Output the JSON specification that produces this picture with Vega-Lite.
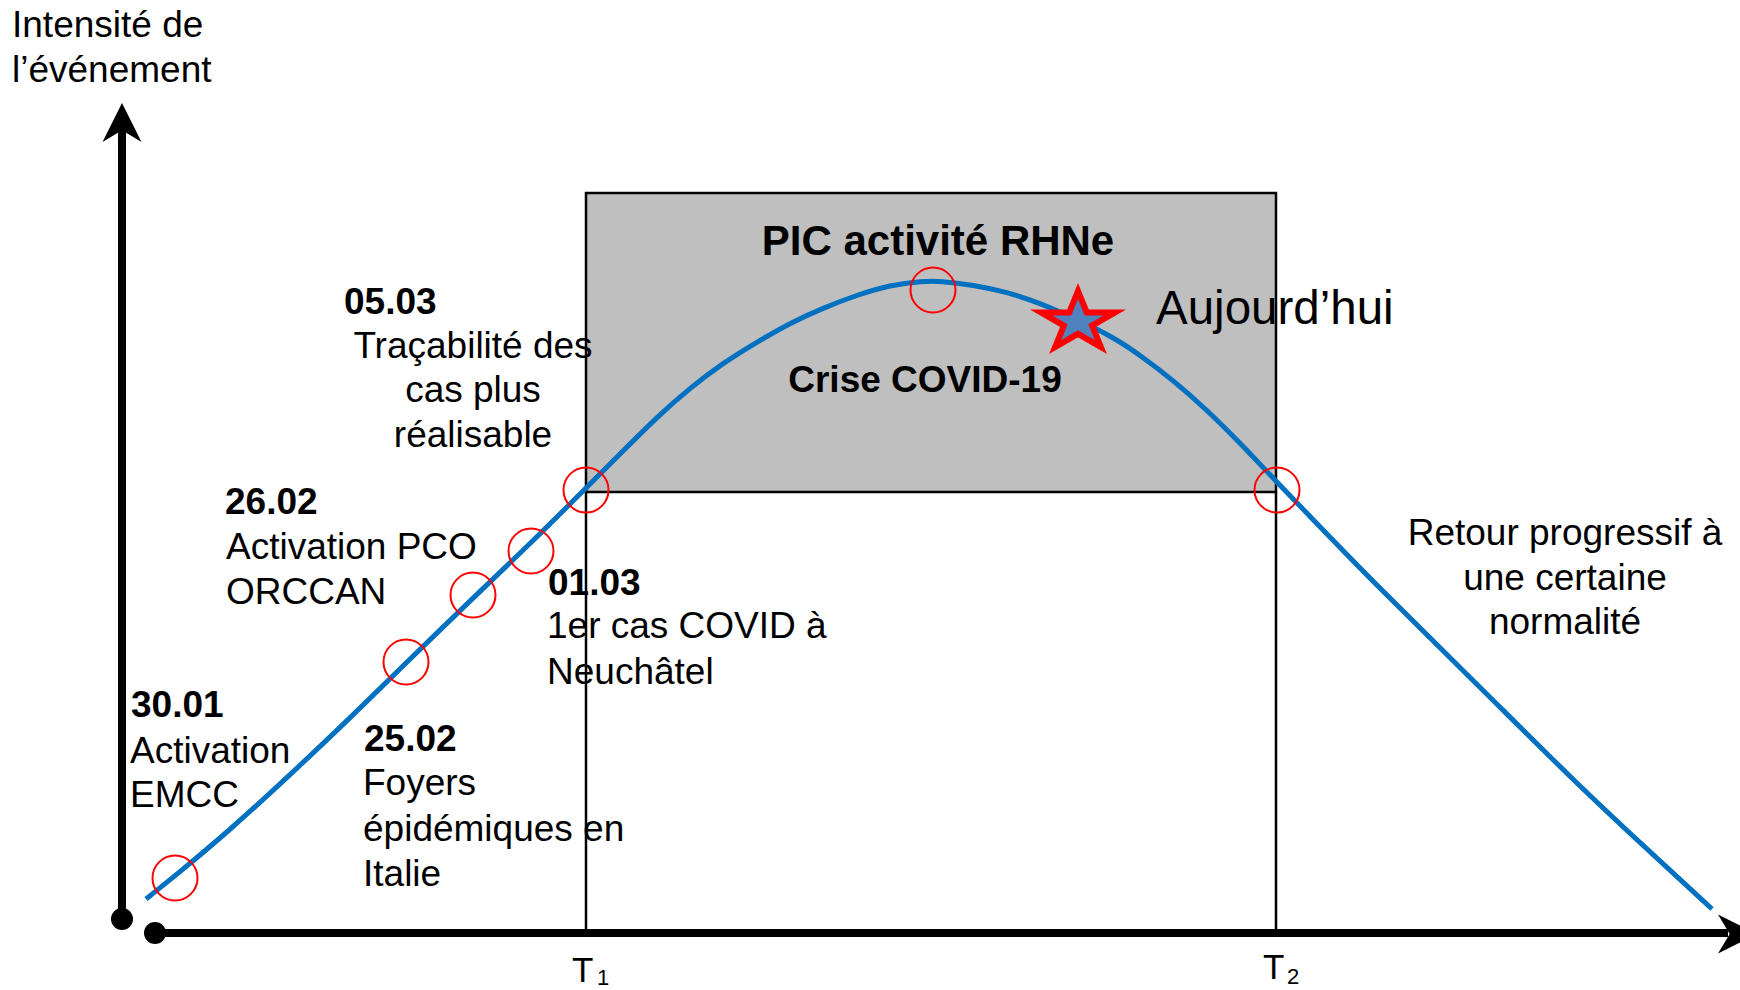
{
  "$schema": "https://vega.github.io/schema/vega-lite/v6.json",
  "width": 1740,
  "height": 990,
  "autosize": {"type": "none"},
  "padding": 0,
  "background": "white",
  "config": {"view": {"stroke": null}},
  "layer": [
    {
      "data": {"values": [{"x1": 586, "x2": 1276, "y1": 193, "y2": 492}]},
      "mark": {"type": "rect", "fill": "#BFBFBF", "stroke": "#000000", "strokeWidth": 2.5},
      "encoding": {
        "x": {"field": "x1", "type": "quantitative", "scale": {"domain": [0, 1740], "nice": false, "zero": false}, "axis": null},
        "x2": {"field": "x2"},
        "y": {"field": "y1", "type": "quantitative", "scale": {"domain": [0, 990], "nice": false, "zero": false, "reverse": true}, "axis": null},
        "y2": {"field": "y2"}
      }
    },
    {
      "data": {"values": [{"x": 586, "y1": 492, "y2": 933}, {"x": 1276, "y1": 492, "y2": 933}]},
      "mark": {"type": "rule", "color": "#000000", "strokeWidth": 2.5},
      "encoding": {
        "x": {"field": "x", "type": "quantitative", "scale": {"domain": [0, 1740], "nice": false, "zero": false}, "axis": null},
        "y": {"field": "y1", "type": "quantitative", "scale": {"domain": [0, 990], "nice": false, "zero": false, "reverse": true}, "axis": null},
        "y2": {"field": "y2"}
      }
    },
    {
      "data": {"values": [
        {"t": 146, "v": 899}, {"t": 175, "v": 876}, {"t": 230, "v": 830}, {"t": 290, "v": 775},
        {"t": 350, "v": 718}, {"t": 406, "v": 663}, {"t": 473, "v": 598}, {"t": 531, "v": 543},
        {"t": 586, "v": 488}, {"t": 623, "v": 451}, {"t": 657, "v": 417}, {"t": 690, "v": 388},
        {"t": 723, "v": 363}, {"t": 757, "v": 342}, {"t": 790, "v": 323}, {"t": 823, "v": 308},
        {"t": 857, "v": 295}, {"t": 890, "v": 285}, {"t": 923, "v": 281}, {"t": 940, "v": 281},
        {"t": 973, "v": 285}, {"t": 1007, "v": 292}, {"t": 1040, "v": 303}, {"t": 1076, "v": 319},
        {"t": 1113, "v": 337}, {"t": 1140, "v": 355}, {"t": 1173, "v": 380}, {"t": 1207, "v": 410},
        {"t": 1240, "v": 443}, {"t": 1273, "v": 478}, {"t": 1300, "v": 506}, {"t": 1372, "v": 581},
        {"t": 1476, "v": 683}, {"t": 1579, "v": 786}, {"t": 1648, "v": 850}, {"t": 1712, "v": 909}
      ]},
      "mark": {"type": "line", "color": "#0070C0", "strokeWidth": 5, "interpolate": "basis"},
      "encoding": {
        "x": {"field": "t", "type": "quantitative", "scale": {"domain": [0, 1740], "nice": false, "zero": false}, "axis": null},
        "y": {"field": "v", "type": "quantitative", "scale": {"domain": [0, 990], "nice": false, "zero": false, "reverse": true}, "axis": null}
      }
    },
    {
      "data": {"values": [
        {"x": 175, "y": 878}, {"x": 406, "y": 662}, {"x": 473, "y": 595}, {"x": 531, "y": 551},
        {"x": 586, "y": 490}, {"x": 933, "y": 290}, {"x": 1277, "y": 490}
      ]},
      "mark": {"type": "point", "shape": "circle", "filled": false, "stroke": "#FF0000", "strokeWidth": 2, "size": 2025, "opacity": 1},
      "encoding": {
        "x": {"field": "x", "type": "quantitative", "scale": {"domain": [0, 1740], "nice": false, "zero": false}, "axis": null},
        "y": {"field": "y", "type": "quantitative", "scale": {"domain": [0, 990], "nice": false, "zero": false, "reverse": true}, "axis": null}
      }
    },
    {
      "data": {"values": [{"x": 1078, "y": 319}]},
      "mark": {"type": "point", "shape": "M0,-0.76L0.236,-0.179L1,-0.179L0.382,0.179L0.618,0.76L0,0.401L-0.618,0.76L-0.382,0.179L-1,-0.179L-0.236,-0.179Z", "filled": true, "fill": "#4F81BD", "stroke": "#FF0000", "strokeWidth": 6, "strokeJoin": "miter", "size": 5476, "opacity": 1, "fillOpacity": 1},
      "encoding": {
        "x": {"field": "x", "type": "quantitative", "scale": {"domain": [0, 1740], "nice": false, "zero": false}, "axis": null},
        "y": {"field": "y", "type": "quantitative", "scale": {"domain": [0, 990], "nice": false, "zero": false, "reverse": true}, "axis": null}
      }
    },
    {
      "data": {"values": [
        {"x": 122, "y": 919, "x2": 122, "y2": 128},
        {"x": 155, "y": 933, "x2": 1728, "y2": 933}
      ]},
      "mark": {"type": "rule", "color": "#000000", "strokeWidth": 8},
      "encoding": {
        "x": {"field": "x", "type": "quantitative", "scale": {"domain": [0, 1740], "nice": false, "zero": false}, "axis": null},
        "y": {"field": "y", "type": "quantitative", "scale": {"domain": [0, 990], "nice": false, "zero": false, "reverse": true}, "axis": null},
        "x2": {"field": "x2"},
        "y2": {"field": "y2"}
      }
    },
    {
      "data": {"values": [{"x": 122, "y": 919}, {"x": 155, "y": 933}]},
      "mark": {"type": "point", "shape": "circle", "filled": true, "color": "#000000", "size": 484, "opacity": 1},
      "encoding": {
        "x": {"field": "x", "type": "quantitative", "scale": {"domain": [0, 1740], "nice": false, "zero": false}, "axis": null},
        "y": {"field": "y", "type": "quantitative", "scale": {"domain": [0, 990], "nice": false, "zero": false, "reverse": true}, "axis": null}
      }
    },
    {
      "data": {"values": [{"x": 122, "y": 122.5}]},
      "mark": {"type": "point", "shape": "M0,-1L1,1L0,0.4L-1,1Z", "filled": true, "color": "#000000", "size": 1521, "opacity": 1},
      "encoding": {
        "x": {"field": "x", "type": "quantitative", "scale": {"domain": [0, 1740], "nice": false, "zero": false}, "axis": null},
        "y": {"field": "y", "type": "quantitative", "scale": {"domain": [0, 990], "nice": false, "zero": false, "reverse": true}, "axis": null}
      }
    },
    {
      "data": {"values": [{"x": 1737.5, "y": 934}]},
      "mark": {"type": "point", "shape": "M1,0L-1,1L-0.4,0L-1,-1Z", "filled": true, "color": "#000000", "size": 1521, "opacity": 1},
      "encoding": {
        "x": {"field": "x", "type": "quantitative", "scale": {"domain": [0, 1740], "nice": false, "zero": false}, "axis": null},
        "y": {"field": "y", "type": "quantitative", "scale": {"domain": [0, 990], "nice": false, "zero": false, "reverse": true}, "axis": null}
      }
    },
    {
      "data": {"values": [
        {"x": 12, "y": 37, "label": "Intensité de"},
        {"x": 12, "y": 82, "label": "l’événement"},
        {"x": 226, "y": 559, "label": "Activation PCO"},
        {"x": 226, "y": 604, "label": "ORCCAN"},
        {"x": 130, "y": 763, "label": "Activation"},
        {"x": 130, "y": 807, "label": "EMCC"},
        {"x": 363, "y": 795, "label": "Foyers"},
        {"x": 363, "y": 841, "label": "épidémiques en"},
        {"x": 363, "y": 886, "label": "Italie"},
        {"x": 547, "y": 638, "label": "1er cas COVID à"},
        {"x": 547, "y": 684, "label": "Neuchâtel"}
      ]},
      "mark": {"type": "text", "align": "left", "baseline": "alphabetic", "font": "Liberation Sans", "fontSize": 37, "color": "#000000"},
      "encoding": {
        "x": {"field": "x", "type": "quantitative", "scale": {"domain": [0, 1740], "nice": false, "zero": false}, "axis": null},
        "y": {"field": "y", "type": "quantitative", "scale": {"domain": [0, 990], "nice": false, "zero": false, "reverse": true}, "axis": null},
        "text": {"field": "label"}
      }
    },
    {
      "data": {"values": [
        {"x": 473, "y": 358, "label": "Traçabilité des"},
        {"x": 473, "y": 402, "label": "cas plus"},
        {"x": 473, "y": 447, "label": "réalisable"},
        {"x": 1565, "y": 545, "label": "Retour progressif à"},
        {"x": 1565, "y": 590, "label": "une certaine"},
        {"x": 1565, "y": 634, "label": "normalité"}
      ]},
      "mark": {"type": "text", "align": "center", "baseline": "alphabetic", "font": "Liberation Sans", "fontSize": 37, "color": "#000000"},
      "encoding": {
        "x": {"field": "x", "type": "quantitative", "scale": {"domain": [0, 1740], "nice": false, "zero": false}, "axis": null},
        "y": {"field": "y", "type": "quantitative", "scale": {"domain": [0, 990], "nice": false, "zero": false, "reverse": true}, "axis": null},
        "text": {"field": "label"}
      }
    },
    {
      "data": {"values": [
        {"x": 344, "y": 314, "label": "05.03"},
        {"x": 225, "y": 514, "label": "26.02"},
        {"x": 131, "y": 717, "label": "30.01"},
        {"x": 364, "y": 751, "label": "25.02"},
        {"x": 548, "y": 595, "label": "01.03"}
      ]},
      "mark": {"type": "text", "align": "left", "baseline": "alphabetic", "font": "Liberation Sans", "fontWeight": "bold", "fontSize": 37, "color": "#000000"},
      "encoding": {
        "x": {"field": "x", "type": "quantitative", "scale": {"domain": [0, 1740], "nice": false, "zero": false}, "axis": null},
        "y": {"field": "y", "type": "quantitative", "scale": {"domain": [0, 990], "nice": false, "zero": false, "reverse": true}, "axis": null},
        "text": {"field": "label"}
      }
    },
    {
      "data": {"values": [{"x": 938, "y": 255, "label": "PIC activité RHNe"}]},
      "mark": {"type": "text", "align": "center", "baseline": "alphabetic", "font": "Liberation Sans", "fontWeight": "bold", "fontSize": 42, "color": "#000000"},
      "encoding": {
        "x": {"field": "x", "type": "quantitative", "scale": {"domain": [0, 1740], "nice": false, "zero": false}, "axis": null},
        "y": {"field": "y", "type": "quantitative", "scale": {"domain": [0, 990], "nice": false, "zero": false, "reverse": true}, "axis": null},
        "text": {"field": "label"}
      }
    },
    {
      "data": {"values": [{"x": 925, "y": 392, "label": "Crise COVID-19"}]},
      "mark": {"type": "text", "align": "center", "baseline": "alphabetic", "font": "Liberation Sans", "fontWeight": "bold", "fontSize": 37, "color": "#000000"},
      "encoding": {
        "x": {"field": "x", "type": "quantitative", "scale": {"domain": [0, 1740], "nice": false, "zero": false}, "axis": null},
        "y": {"field": "y", "type": "quantitative", "scale": {"domain": [0, 990], "nice": false, "zero": false, "reverse": true}, "axis": null},
        "text": {"field": "label"}
      }
    },
    {
      "data": {"values": [{"x": 1156, "y": 324, "label": "Aujourd’hui"}]},
      "mark": {"type": "text", "align": "left", "baseline": "alphabetic", "font": "Liberation Sans", "fontSize": 47.5, "color": "#000000"},
      "encoding": {
        "x": {"field": "x", "type": "quantitative", "scale": {"domain": [0, 1740], "nice": false, "zero": false}, "axis": null},
        "y": {"field": "y", "type": "quantitative", "scale": {"domain": [0, 990], "nice": false, "zero": false, "reverse": true}, "axis": null},
        "text": {"field": "label"}
      }
    },
    {
      "data": {"values": [{"x": 572, "y": 982, "label": "T"}, {"x": 1263, "y": 979, "label": "T"}]},
      "mark": {"type": "text", "align": "left", "baseline": "alphabetic", "font": "Liberation Sans", "fontSize": 35, "color": "#000000"},
      "encoding": {
        "x": {"field": "x", "type": "quantitative", "scale": {"domain": [0, 1740], "nice": false, "zero": false}, "axis": null},
        "y": {"field": "y", "type": "quantitative", "scale": {"domain": [0, 990], "nice": false, "zero": false, "reverse": true}, "axis": null},
        "text": {"field": "label"}
      }
    },
    {
      "data": {"values": [{"x": 597, "y": 985, "label": "1"}, {"x": 1287, "y": 984, "label": "2"}]},
      "mark": {"type": "text", "align": "left", "baseline": "alphabetic", "font": "Liberation Sans", "fontSize": 22, "color": "#000000"},
      "encoding": {
        "x": {"field": "x", "type": "quantitative", "scale": {"domain": [0, 1740], "nice": false, "zero": false}, "axis": null},
        "y": {"field": "y", "type": "quantitative", "scale": {"domain": [0, 990], "nice": false, "zero": false, "reverse": true}, "axis": null},
        "text": {"field": "label"}
      }
    }
  ]
}
